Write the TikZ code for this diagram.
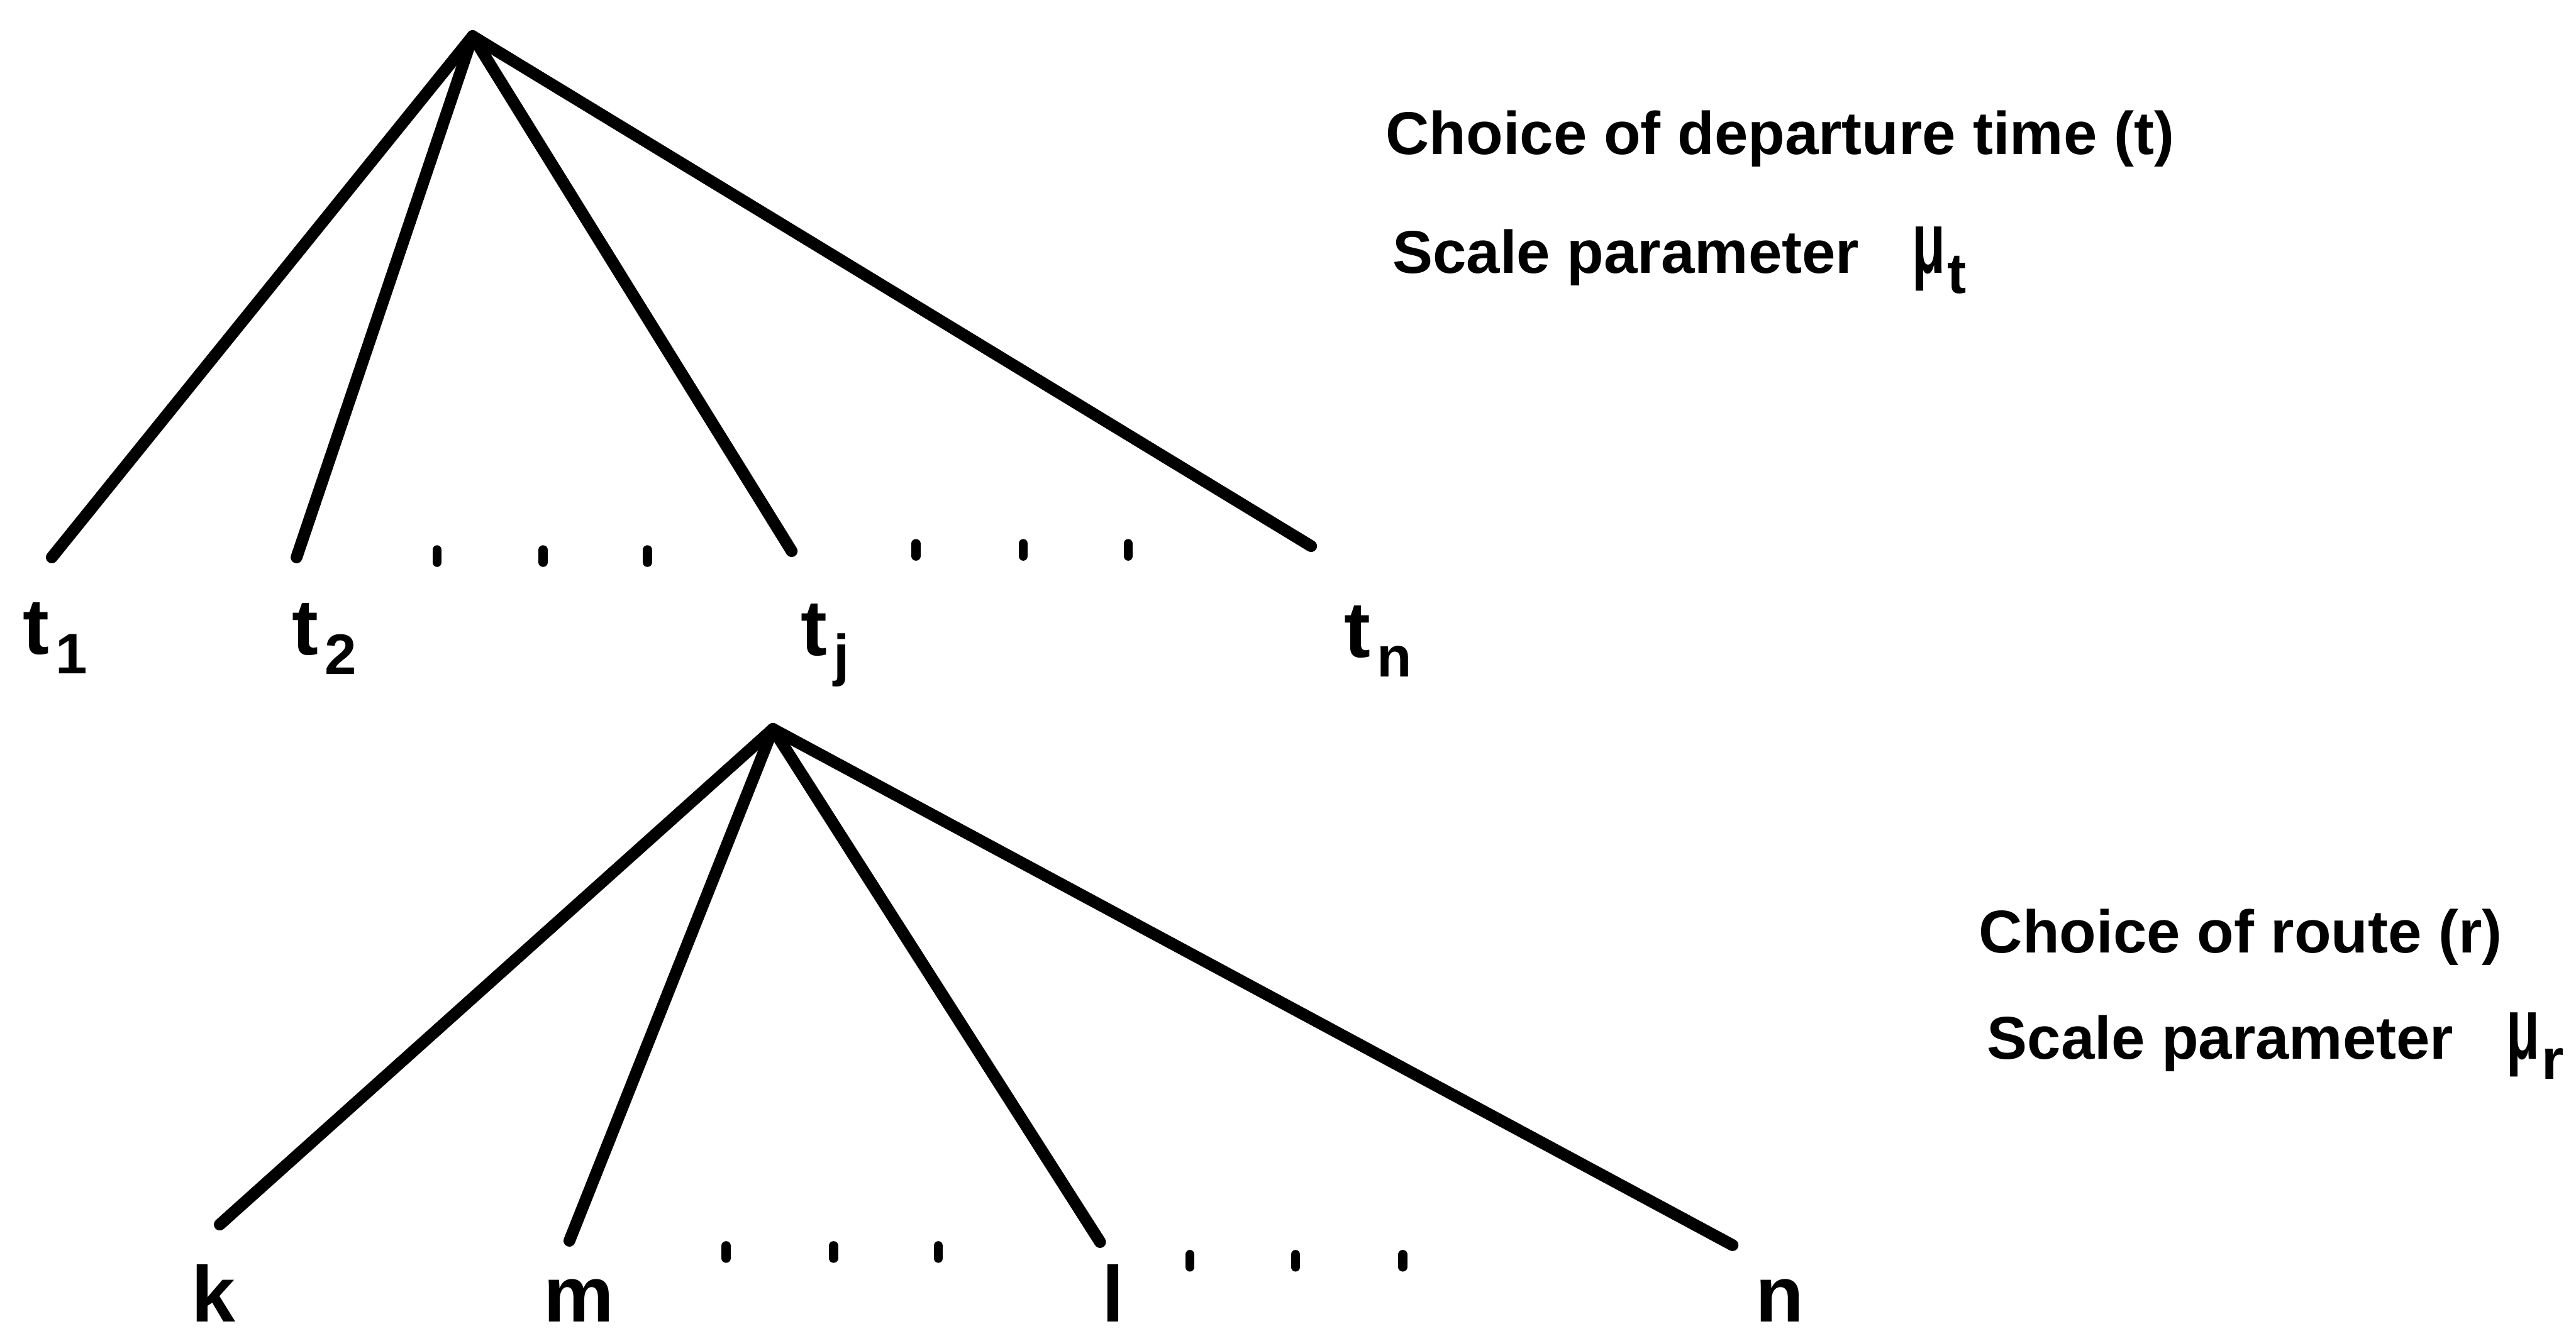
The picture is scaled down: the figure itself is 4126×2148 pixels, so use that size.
\documentclass[tikz,border=0pt]{standalone}
\usepackage{fontspec}
\usepackage{graphicx}
\setmainfont{Liberation Sans}
\usetikzlibrary{positioning}
\newcommand{\lsub}[1]{\kern3pt\raisebox{-9pt}{\fontsize{26}{26}\selectfont #1}}
\newcommand{\mupar}[1]{\scalebox{0.62}[1]{\fontsize{40}{40}\selectfont μ}\kern1pt\raisebox{-9pt}{\fontsize{26}{26}\selectfont #1}}

\begin{document}
\begin{tikzpicture}[x=0.01cm,y=-0.01cm,line cap=round,
  br/.style={line width=5.4pt},
  dt/.style={line width=4.2pt},
  lf/.style={anchor=base west,inner sep=0pt,font=\fontsize{36}{36}\selectfont\bfseries},
  tx/.style={anchor=base west,inner sep=0pt,font=\fontsize{27.5}{27.5}\selectfont\bfseries}]
  \useasboundingbox (0,0) rectangle (4126,2148);
  % departure time
  \coordinate (tt) at (757,58);
  \coordinate (e1) at (83,893);
  \coordinate (e2) at (475,893);
  \coordinate (ej) at (1268,883);
  \coordinate (en) at (2100,875);
  \foreach \e in {e1,e2,ej,en}{\draw[br] (tt) -- (\e);}
  \foreach \x/\y in {700/891,870/891,1037/891,1467/881,1639/881,1807/881}{\draw[dt] (\x,\y-10) -- (\x,\y+10);}
  \node[lf] (t1) at (36,1048) {t\lsub{1}};
  \node[lf] (t2) at (467,1049) {t\lsub{2}};
  \node[lf] (tj) at (1282,1050) {t\lsub{j}};
  \node[lf] (tn) at (2152,1053) {t\lsub{n}};
  \node[tx] (ct) at (2219,247) {Choice of departure time (t)};
  \node[tx] (st) at (2230,438) {Scale parameter\hspace{24pt}\mupar{t}};
  % route
  \coordinate (rt) at (1238,1168);
  \coordinate (ek) at (352,1962);
  \coordinate (em) at (912,1988);
  \coordinate (el) at (1762,1990);
  \coordinate (eo) at (2775,1995);
  \foreach \e in {ek,em,el,eo}{\draw[br] (rt) -- (\e);}
  \foreach \x/\y in {1163/2006,1335/2006,1503/2006,1906/2020,2075/2020,2247/2020}{\draw[dt] (\x,\y-10) -- (\x,\y+10);}
  \node[lf] (k) at (306,2118) {k};
  \node[lf] (m) at (870,2118) {m};
  \node[lf] (l) at (1765,2118) {l};
  \node[lf] (n) at (2811,2118) {n};
  \node[tx] (cr) at (3169,1527) {Choice of route (r)};
  \node[tx] (sr) at (3182,1697) {Scale parameter\hspace{24pt}\mupar{r}};
\end{tikzpicture}
\end{document}
